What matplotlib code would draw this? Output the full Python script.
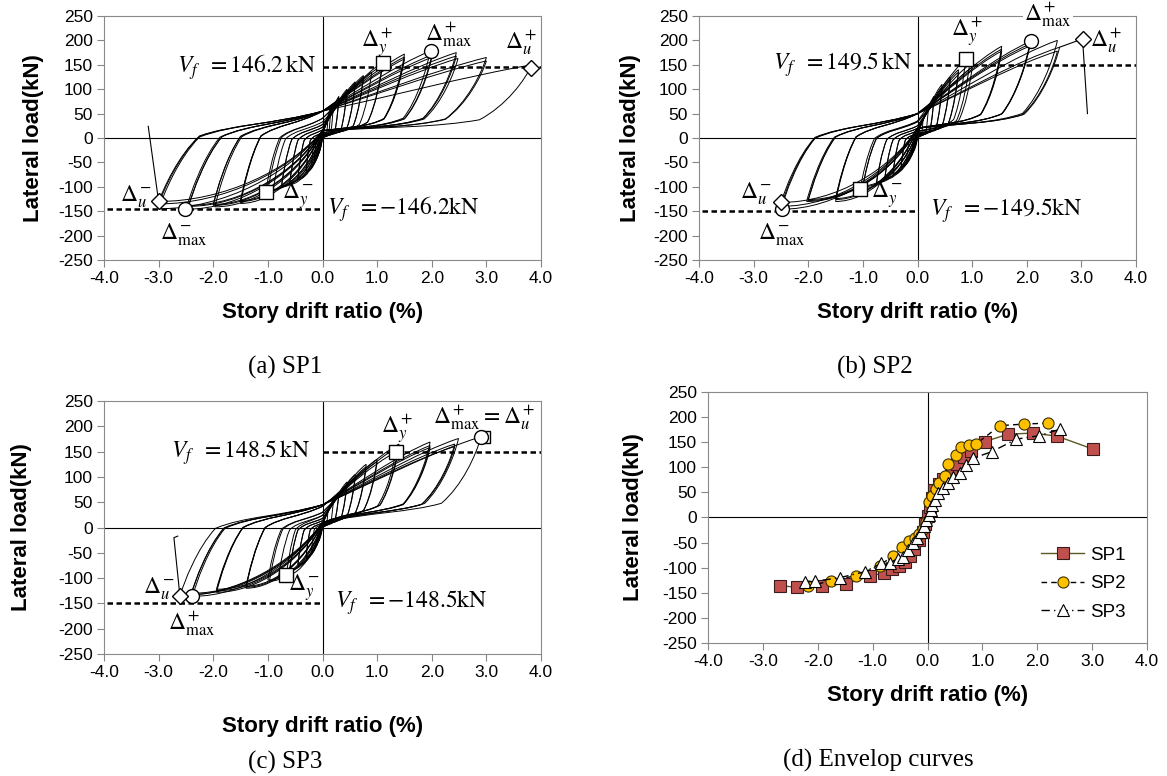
import numpy as np
import matplotlib.pyplot as plt
from matplotlib.path import Path
from matplotlib.patches import PathPatch

plt.rcParams['font.family'] = ['Liberation Sans', 'DejaVu Sans']
plt.rcParams['mathtext.fontset'] = 'stix'
plt.rcParams['axes.unicode_minus'] = False

# ---- cyclic test data: peak of every cycle (drift %, load kN) ----
# SP1
sp1_pos_drift = [0.1, 0.15, 0.2, 0.3, 0.3, 0.45, 0.45, 0.6, 0.6, 0.75, 0.75, 0.9, 1.1, 1.1,
                 1.5, 1.5, 1.5, 1.97, 2.0, 2.0, 2.45, 2.45, 2.48, 3.0, 3.0, 3.83]
sp1_pos_load = [45, 60, 70, 85, 82, 100, 97, 115, 112, 128, 125, 135, 155, 150,
                172, 166, 162, 178, 170, 165, 175, 168, 163, 165, 158, 150]
sp1_neg_drift = [-0.1, -0.15, -0.2, -0.3, -0.3, -0.45, -0.45, -0.6, -0.6, -0.75, -0.75, -0.9, -1.04, -1.0,
                 -1.5, -1.5, -1.5, -1.97, -2.0, -2.0, -2.5, -2.45, -2.45, -3.0, -3.0, -3.0]
sp1_neg_load = [-35, -45, -55, -70, -68, -85, -82, -95, -92, -100, -98, -105, -110, -108,
                -134, -130, -128, -141, -138, -136, -146, -140, -138, -145, -135, -130]
# origin crossing, upper crossing, positive reload plateau, negative plateau
sp1_pinch = [15, 55, 22, 28]
sp1_tail_x = [-3.0, -3.19]
sp1_tail_y = [-130, 24]

# SP2
sp2_pos_drift = [0.1, 0.2, 0.3, 0.3, 0.45, 0.45, 0.6, 0.6, 0.75, 0.75, 0.88, 0.95, 1.0,
                 1.54, 1.54, 1.54, 2.07, 2.05, 2.05, 2.56, 2.6, 2.56]
sp2_pos_load = [40, 65, 85, 82, 110, 105, 125, 120, 140, 135, 161, 150, 145,
                188, 182, 178, 198, 192, 188, 200, 186, 178]
sp2_neg_drift = [-0.1, -0.2, -0.3, -0.3, -0.45, -0.45, -0.6, -0.6, -0.75, -0.75, -1.05, -1.0, -1.0,
                 -1.5, -1.5, -1.5, -2.03, -2.0, -2.0, -2.5, -2.5, -2.5]
sp2_neg_load = [-30, -45, -60, -58, -75, -72, -85, -82, -92, -90, -105, -100, -98,
                -130, -126, -124, -130, -128, -126, -146, -140, -132]
sp2_pinch = [20, 50, 30, 25]
sp2_tail_x = [2.6, 3.02, 3.11]
sp2_tail_y = [186, 203, 50]

# SP3
sp3_pos_drift = [0.1, 0.2, 0.3, 0.3, 0.45, 0.45, 0.6, 0.6, 0.8, 0.8, 1.0, 1.0, 1.34, 1.4, 1.4,
                 1.97, 1.97, 1.97, 2.49, 2.42, 2.42, 2.9]
sp3_pos_load = [35, 55, 70, 68, 90, 86, 105, 100, 125, 120, 135, 130, 149, 165, 160,
                169, 162, 158, 176, 165, 160, 179]
sp3_neg_drift = [-0.1, -0.2, -0.3, -0.3, -0.45, -0.45, -0.6, -0.6, -0.66, -0.8, -0.97, -1.0, -1.4, -1.4, -1.4,
                 -1.94, -1.94, -1.94, -2.38, -2.4, -2.4, -2.61]
sp3_neg_load = [-30, -45, -60, -58, -75, -72, -85, -83, -94, -95, -106, -104, -120, -118, -116,
                -128, -125, -122, -136, -132, -130, -135]
sp3_pinch = [10, 45, 30, 22]
sp3_tail_x = [-2.61, -2.72, -2.65]
sp3_tail_y = [-135, -20, -17]

# characteristic points
sp1_marks = {'y+': (1.11, 153), 'max+': (1.98, 178), 'u+': (3.81, 143),
             'y-': (-1.04, -111), 'max-': (-2.51, -146), 'u-': (-3.0, -130)}
sp2_marks = {'y+': (0.88, 161), 'max+': (2.07, 198), 'u+': (3.02, 203),
             'y-': (-1.06, -104), 'max-': (-2.48, -146), 'u-': (-2.5, -132)}
sp3_marks = {'y+': (1.34, 149), 'u+': (2.96, 179), 'max+': (2.9, 179),
             'y-': (-0.66, -94), 'max-': (-2.38, -136), 'u-': (-2.61, -135)}
vf = [146.2, 149.5, 148.5]

# ---- envelope curves ----
env1_x = [-2.68, -2.38, -1.93, -1.49, -1.04, -0.80, -0.64, -0.52, -0.41, -0.32, -0.24, -0.16, -0.09,
          -0.04, 0.0, 0.04, 0.08, 0.12, 0.21, 0.29, 0.42, 0.53, 0.66, 0.80, 1.04, 1.47, 1.92, 2.36, 3.02]
env1_y = [-136, -139, -136, -132, -117, -110, -103, -96, -88, -76, -62, -45, -28,
          -12, 2, 20, 38, 55, 67, 76, 92, 106, 120, 132, 151, 166, 168, 162, 136]
env2_x = [-2.17, -1.76, -1.31, -0.87, -0.63, -0.47, -0.33, -0.23, -0.15, -0.08, -0.03, 0.03, 0.08,
          0.15, 0.21, 0.31, 0.38, 0.51, 0.61, 0.75, 0.88, 1.32, 1.76, 2.2]
env2_y = [-137, -126, -116, -96, -76, -59, -47, -40, -32, -22, -10, 30, 42,
          57, 68, 83, 107, 125, 140, 145, 146, 183, 186, 188]
env3_x = [-2.24, -2.05, -1.60, -1.14, -0.84, -0.69, -0.54, -0.45, -0.36, -0.27, -0.19, -0.12, -0.06,
          -0.02, 0.02, 0.06, 0.09, 0.13, 0.19, 0.28, 0.38, 0.47, 0.59, 0.71, 0.83, 1.17, 1.62, 2.04, 2.42]
env3_y = [-129, -127, -120, -108, -91, -90, -82, -78, -64, -50, -40, -28, -16,
          -5, 5, 15, 25, 35, 49, 59, 69, 80, 88, 105, 118, 131, 156, 163, 176]

xticks = np.arange(-4, 4.1, 1)
yticks = np.arange(-250, 251, 50)

mark_style = {'y+': ('s', 10), 'y-': ('s', 10), 'max+': ('o', 10), 'max-': ('o', 10),
              'u+': ('D', 8), 'u-': ('D', 8)}


def loop_path(dp, fp, dn, fn, pinch, dref=1.5):
    # one pinched cycle: reload plateau -> positive peak -> unload -> negative plateau -> negative peak
    s = min(1.0, max(dp, -dn) / dref)
    c0, ua, pl, nl = [p * s for p in pinch]
    verts = [(0, c0),
             (0.3 * dp, pl), (0.55 * dp, pl), (0.75 * dp, pl + 0.12 * (fp - pl)),
             (0.88 * dp, pl + 0.35 * (fp - pl)), (0.97 * dp, 0.8 * fp), (dp, fp),
             (0.7 * dp, 0.85 * fp), (0.3 * dp, ua + 0.3 * (fp - ua)), (0, ua),
             (0.3 * dn, nl), (0.55 * dn, nl), (0.75 * dn, nl + 0.15 * (fn - nl)),
             (0.88 * dn, nl + 0.4 * (fn - nl)), (0.97 * dn, 0.8 * fn), (dn, fn),
             (0.6 * dn, fn), (0.2 * dn, 0.5 * fn), (0, c0)]
    codes = [Path.MOVETO] + [Path.CURVE4] * 18
    return Path(verts, codes)


def style_axes(ax):
    ax.set_xlim(-4, 4)
    ax.set_ylim(-250, 250)
    ax.set_xticks(xticks)
    ax.set_yticks(yticks)
    ax.set_xticklabels(['%.1f' % v for v in xticks])
    ax.set_yticklabels(['%d' % v for v in yticks])
    ax.tick_params(direction='out', length=5, width=0.8, color='#868686', labelsize=12.5, pad=3)
    for sp in ax.spines.values():
        sp.set_color('#8a8a8a')
        sp.set_linewidth(0.8)
    ax.axhline(0, color='black', lw=0.8, zorder=1)
    ax.axvline(0, color='black', lw=0.8, zorder=1)
    ax.set_xlabel('Story drift ratio (%)', fontsize=16, fontweight='bold')
    ax.set_ylabel('Lateral load(kN)', fontsize=16, fontweight='bold')


def draw_hysteresis(ax, pd, pf, nd, nf, pinch, tx, ty):
    for i in range(len(pd)):
        ax.add_patch(PathPatch(loop_path(pd[i], pf[i], nd[i], nf[i], pinch),
                               fc='none', ec='black', lw=0.7, zorder=2))
    ax.plot(tx, ty, color='black', lw=0.8, zorder=2)


def draw_marks(ax, m):
    for key, (x, y) in m.items():
        mk, ms = mark_style[key]
        if key == 'u+' and ax is ax_c:
            mk = 's'
        ax.plot(x, y, marker=mk, ms=ms, mfc='white', mec='black', mew=1.0, zorder=5, ls='none')


def draw_vf(ax, v, xpos, xneg):
    dash = dict(color='black', lw=1.8, ls=(0, (2.2, 1.4)), zorder=3)
    ax.plot([0, 4], [v, v], **dash)
    ax.plot([-3.95, 0], [-v, -v], **dash)
    ax.text(xpos, v, r'$V_f\;\;=%.1f\,\mathrm{kN}$' % v, fontsize=17, ha='right', va='center', zorder=6)
    ax.text(xneg, -v, r'$V_f\;\;=-%.1f\mathrm{kN}$' % v, fontsize=17, ha='left', va='center', zorder=6)


fig = plt.figure(figsize=(11.67, 7.76), dpi=100)
ax_a = fig.add_axes([0.0891, 0.6649, 0.3745, 0.3145])
ax_b = fig.add_axes([0.5990, 0.6649, 0.3745, 0.3145])
ax_c = fig.add_axes([0.0891, 0.1572, 0.3745, 0.3260])
ax_d = fig.add_axes([0.6067, 0.1714, 0.3762, 0.3235])

for ax in [ax_a, ax_b, ax_c, ax_d]:
    style_axes(ax)

dfs = 17
# (a) SP1
draw_hysteresis(ax_a, sp1_pos_drift, sp1_pos_load, sp1_neg_drift, sp1_neg_load, sp1_pinch, sp1_tail_x, sp1_tail_y)
draw_vf(ax_a, vf[0], -0.11, 0.08)
draw_marks(ax_a, sp1_marks)
ax_a.text(1.0, 195, r'$\Delta_y^+$', fontsize=dfs, ha='center', va='center')
ax_a.text(2.32, 212, r'$\Delta_{\mathrm{max}}^+$', fontsize=dfs, ha='center', va='center')
ax_a.text(3.64, 195, r'$\Delta_u^+$', fontsize=dfs, ha='center', va='center')
ax_a.text(-3.41, -120, r'$\Delta_u^-$', fontsize=dfs, ha='center', va='center')
ax_a.text(-2.53, -198, r'$\Delta_{\mathrm{max}}^-$', fontsize=dfs, ha='center', va='center')
ax_a.text(-0.44, -120, r'$\Delta_y^-$', fontsize=dfs, ha='center', va='center')

# (b) SP2
draw_hysteresis(ax_b, sp2_pos_drift, sp2_pos_load, sp2_neg_drift, sp2_neg_load, sp2_pinch, sp2_tail_x, sp2_tail_y)
draw_vf(ax_b, vf[1], -0.1, 0.23)
draw_marks(ax_b, sp2_marks)
ax_b.text(0.91, 217, r'$\Delta_y^+$', fontsize=dfs, ha='center', va='center')
ax_b.text(2.39, 253, r'$\Delta_{\mathrm{max}}^+$', fontsize=dfs, ha='center', va='center',
          bbox=dict(fc='white', ec='none', pad=1), clip_on=False, zorder=7)
ax_b.text(3.45, 199, r'$\Delta_u^+$', fontsize=dfs, ha='center', va='center')
ax_b.text(-2.96, -115, r'$\Delta_u^-$', fontsize=dfs, ha='center', va='center')
ax_b.text(-2.48, -198, r'$\Delta_{\mathrm{max}}^-$', fontsize=dfs, ha='center', va='center')
ax_b.text(-0.56, -118, r'$\Delta_y^-$', fontsize=dfs, ha='center', va='center')

# (c) SP3
draw_hysteresis(ax_c, sp3_pos_drift, sp3_pos_load, sp3_neg_drift, sp3_neg_load, sp3_pinch, sp3_tail_x, sp3_tail_y)
draw_vf(ax_c, vf[2], -0.22, 0.22)
draw_marks(ax_c, sp3_marks)
ax_c.text(2.96, 218, r'$\Delta_{\mathrm{max}}^+=\Delta_u^+$', fontsize=dfs, ha='center', va='center')
ax_c.text(1.37, 195, r'$\Delta_y^+$', fontsize=dfs, ha='center', va='center')
ax_c.text(-3.0, -120, r'$\Delta_u^-$', fontsize=dfs, ha='center', va='center')
ax_c.text(-2.39, -189, r'$\Delta_{\mathrm{max}}^+$', fontsize=dfs, ha='center', va='center')
ax_c.text(-0.33, -120, r'$\Delta_y^-$', fontsize=dfs, ha='center', va='center')

# (d) envelopes
ax_d.plot(env1_x, env1_y, color='#5b5a26', lw=1.0, marker='s', ms=8, mfc='#c0504d', mec='#3a1c1c',
          mew=0.8, label='SP1', zorder=4)
ax_d.plot(env2_x, env2_y, color='black', lw=1.0, ls=(0, (4, 3)), marker='o', ms=8, mfc='#ffc000',
          mec='#3a3000', mew=0.8, label='SP2', zorder=5)
ax_d.plot(env3_x, env3_y, color='black', lw=1.0, ls=(0, (6, 3, 1, 3)), marker='^', ms=8, mfc='white',
          mec='black', mew=0.8, label='SP3', zorder=6)
ax_d.legend(loc='upper left', bbox_to_anchor=(0.72, 0.45), frameon=False, fontsize=13.5,
            handlelength=2.3, labelspacing=0.6, handletextpad=0.3)

# label positions
for ax, xl, yl in [(ax_a, -0.172, -0.137), (ax_b, -0.172, -0.133), (ax_c, -0.245, -0.164), (ax_d, -0.167, -0.146)]:
    ax.xaxis.set_label_coords(0.5, xl)
    ax.yaxis.set_label_coords(yl, 0.5)

cap = dict(fontsize=18, family='Liberation Serif', ha='center', va='center')
fig.text(285 / 1167, 1 - 367 / 776, '(a) SP1', **cap)
fig.text(875 / 1167, 1 - 367 / 776, '(b) SP2', **cap)
fig.text(285 / 1167, 1 - 762 / 776, '(c) SP3', **cap)
fig.text(878 / 1167, 1 - 760 / 776, '(d) Envelop curves', **cap)

fig.savefig('out.png', dpi=100)
